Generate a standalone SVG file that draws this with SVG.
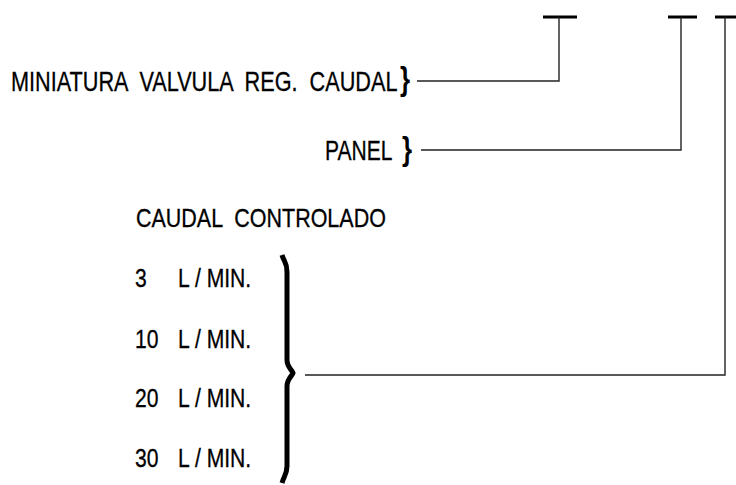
<svg xmlns="http://www.w3.org/2000/svg" width="736" height="485" viewBox="0 0 736 485">
<style>
.t{font-family:"Liberation Sans",Arial,sans-serif;fill:#000;stroke:#000;stroke-width:0.3;white-space:pre}
.b{font-family:"Liberation Sans",Arial,sans-serif;font-weight:bold;font-size:34px;fill:#000}
.r{font-size:25px}
.c{fill:none;stroke:#222;stroke-width:1.4}
.bar{fill:none;stroke:#000;stroke-width:3}
</style>
<rect width="736" height="485" fill="#fff"/>
<g id="terminals">
<line class="bar" x1="543" y1="17" x2="577" y2="17"/>
<line class="bar" x1="668" y1="17" x2="697" y2="17"/>
<line class="bar" x1="715" y1="17" x2="736" y2="17"/>
</g>
<g id="node-miniatura">
<text class="t" xml:space="preserve" font-size="27" transform="translate(11,91) scale(0.803,1)">MINIATURA  VALVULA  REG.  CAUDAL</text>
<text class="b" transform="translate(400,90) scale(0.76,1)">}</text>
</g>
<g id="node-panel">
<text class="t" font-size="27" transform="translate(325,160) scale(0.78,1)">PANEL</text>
<text class="b" transform="translate(402,160) scale(0.76,1)">}</text>
</g>
<g id="node-caudal">
<text class="t r" xml:space="preserve" transform="translate(136,227) scale(0.86,1)">CAUDAL  CONTROLADO</text>
<text class="t r" transform="translate(135,287) scale(0.845,1)"><tspan x="0">3</tspan><tspan x="51">L / MIN.</tspan></text>
<text class="t r" transform="translate(135,348) scale(0.845,1)"><tspan x="0">10</tspan><tspan x="51">L / MIN.</tspan></text>
<text class="t r" transform="translate(135,407) scale(0.845,1)"><tspan x="0">20</tspan><tspan x="51">L / MIN.</tspan></text>
<text class="t r" transform="translate(135,467) scale(0.845,1)"><tspan x="0">30</tspan><tspan x="51">L / MIN.</tspan></text>
<path d="M282,255 C284,262 287,262 287,272 L287,360 C287,367 292,370 293,373 C292,376 287,379 287,386 L287,466 C287,474 284,476 282,483" fill="none" stroke="#000" stroke-width="5"/>
</g>
<g id="connectors">
<path class="c" d="M417,81 H559 V17"/>
<path class="c" d="M421,150 H681 V17"/>
<path class="c" d="M305,375 H725 V17"/>
</g>
</svg>
